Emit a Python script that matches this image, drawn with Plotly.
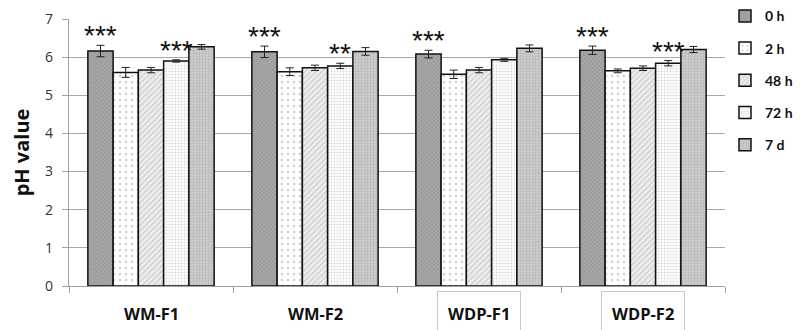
import plotly.graph_objects as go

categories = ["WM-F1", "WM-F2", "WDP-F1", "WDP-F2"]
series_names = ["0 h", "2 h", "48 h", "72 h", "7 d"]
values = {
    "0 h":  [6.16, 6.14, 6.08, 6.18],
    "2 h":  [5.60, 5.62, 5.55, 5.64],
    "48 h": [5.66, 5.72, 5.66, 5.71],
    "72 h": [5.90, 5.77, 5.93, 5.84],
    "7 d":  [6.27, 6.15, 6.23, 6.20],
}
errors = {
    "0 h":  [0.15, 0.15, 0.10, 0.11],
    "2 h":  [0.13, 0.10, 0.11, 0.05],
    "48 h": [0.07, 0.07, 0.07, 0.06],
    "72 h": [0.03, 0.07, 0.04, 0.07],
    "7 d":  [0.06, 0.10, 0.09, 0.08],
}
# significance marks: (category index, series index, text)
signif = [(0, 0, "***"), (0, 3, "***"), (1, 0, "***"), (1, 3, "**"),
          (2, 0, "***"), (3, 0, "***"), (3, 3, "***")]
y_ticks = [0, 1, 2, 3, 4, 5, 6, 7]

styles = {
    "0 h":  dict(shape="x", bgcolor="#a8a8a8", fgcolor="#6e6e6e", size=3, solidity=0.3),
    "2 h":  dict(shape=".", bgcolor="#ffffff", fgcolor="#a0a0a0", size=6, solidity=0.15),
    "48 h": dict(shape="/", bgcolor="#eeeeee", fgcolor="#a8a8a8", size=4, solidity=0.3),
    "72 h": dict(shape=".", bgcolor="#ffffff", fgcolor="#b8b8b8", size=3, solidity=0.35),
    "7 d":  dict(shape=".", bgcolor="#d0d0d0", fgcolor="#a0a0a0", size=3, solidity=0.45),
}

fig = go.Figure()
for i, s in enumerate(series_names):
    fig.add_trace(go.Bar(
        x=categories, y=values[s], name="<b>%s</b>" % s,
        legendgroup=s,
        marker=dict(color=styles[s]["bgcolor"], line=dict(color="#111111", width=1.5),
                    pattern=dict(shape=styles[s]["shape"], fgcolor=styles[s]["fgcolor"],
                                 bgcolor=styles[s]["bgcolor"], size=styles[s]["size"],
                                 solidity=styles[s]["solidity"], fillmode="overlay")),
        error_y=dict(type="data", array=errors[s], color="#222222", thickness=1, width=4),
    ))

bargap = 0.23
nser = len(series_names)
barw = (1 - bargap) / nser
annotations = []
for ci, si, txt in signif:
    s = series_names[si]
    xpos = ci + (si - (nser - 1) / 2) * barw
    ytop = values[s][ci] + errors[s][ci]
    annotations.append(dict(x=xpos, y=ytop, xref="x", yref="y", text=txt,
                            showarrow=False, yanchor="bottom", yshift=-8,
                            font=dict(family="Liberation Sans", size=28, color="#111111")))

for ci, c in enumerate(categories):
    boxed = c.startswith("WDP")
    annotations.append(dict(x=ci, y=0, xref="x", yref="paper", text="<b>%s</b>" % c,
                            showarrow=False, yanchor="middle", yshift=-27,
                            font=dict(family="Open Sans", size=16.5, color="#111111"),
                            bordercolor="#c8c8c8" if boxed else None,
                            borderwidth=1 if boxed else 0,
                            borderpad=10 if boxed else 0))

fig.update_layout(
    width=803, height=330,
    margin=dict(l=69, r=78, t=19, b=44, autoexpand=False),
    paper_bgcolor="white", plot_bgcolor="white",
    barmode="group", bargap=bargap, bargroupgap=0,
    showlegend=True,
    legend=dict(x=1.0, y=1.07, xanchor="left", yanchor="top",
                font=dict(family="Lato", size=14, color="#111111"),
                tracegroupgap=11, itemwidth=30),
    annotations=annotations,
    font=dict(family="Open Sans"),
)
fig.update_xaxes(type="category", showticklabels=False, showline=True, linecolor="#a0a0a0",
                 linewidth=1.2, ticks="outside", tickson="boundaries", ticklen=6,
                 tickcolor="#a0a0a0", showgrid=False, range=[-0.5, 3.5])
fig.update_yaxes(range=[0, 7], tickvals=y_ticks, showline=True, linecolor="#a0a0a0",
                 linewidth=1.2, ticks="outside", ticklen=6, tickcolor="#a0a0a0",
                 showgrid=True, gridcolor="#a8a8a8", gridwidth=1.2, zeroline=False,
                 tickfont=dict(family="Open Sans", size=14, color="#333333"),
                 ticklabelstandoff=6,
                 title=dict(text="<b>pH value</b>", font=dict(family="Open Sans", size=20, color="#111111"),
                            standoff=10))

fig.write_html("out.html")
